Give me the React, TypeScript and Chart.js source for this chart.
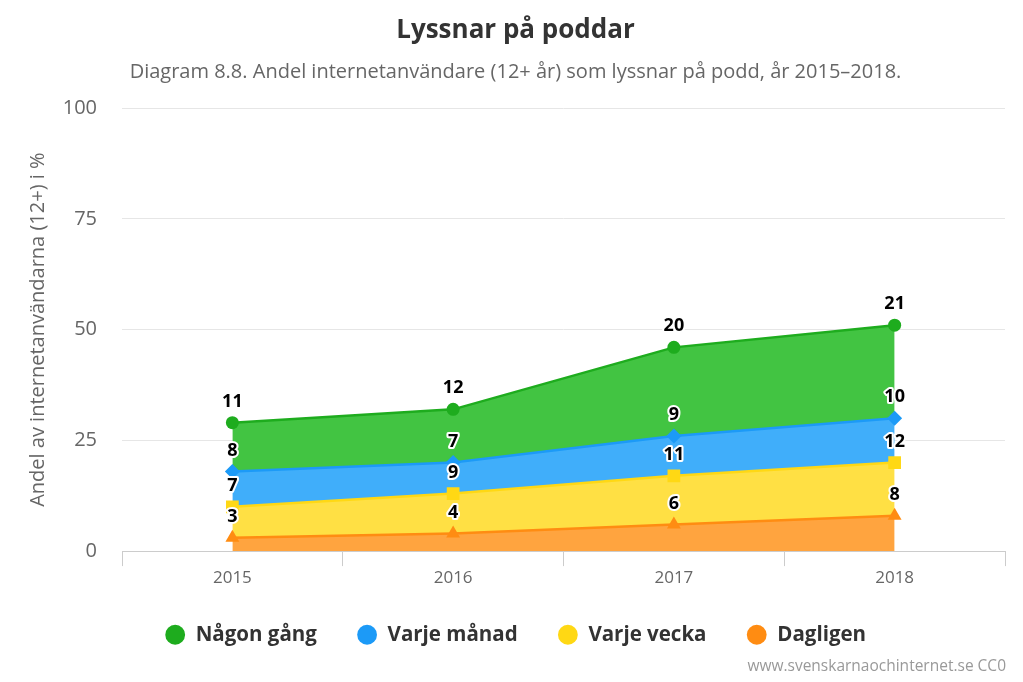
import React, { useEffect, useRef } from "react";
import { Chart, registerables } from "chart.js";

Chart.register(...registerables);

const categories = ["2015", "2016", "2017", "2018"];
const dagligen = [3, 4, 6, 8];
const varjeVecka = [7, 9, 11, 12];
const varjeManad = [8, 7, 9, 10];
const nagonGang = [11, 12, 20, 21];
const yTicks = [0, 25, 50, 75, 100];

const FONT = "'Open Sans', sans-serif";

const dataLabelPlugin = {
  id: "dataLabels",
  afterDatasetsDraw(chart: any) {
    const ctx = chart.ctx;
    ctx.save();
    ctx.font = `bold 18px ${FONT}`;
    ctx.textAlign = "center";
    ctx.textBaseline = "middle";
    ctx.lineJoin = "round";
    chart.data.datasets.forEach((ds: any, di: number) => {
      const meta = chart.getDatasetMeta(di);
      meta.data.forEach((pt: any, i: number) => {
        const txt = String(ds.data[i]);
        const x = pt.x;
        const y = pt.y - 21;
        ctx.strokeStyle = "#ffffff";
        ctx.lineWidth = 4;
        ctx.strokeText(txt, x, y);
        ctx.fillStyle = "#000000";
        ctx.fillText(txt, x, y);
      });
    });
    ctx.restore();
  },
};

const creditsPlugin = {
  id: "credits",
  afterLayout(chart: any) {
    if (chart.legend) {
      chart.legend.top -= 6;
      chart.legend.bottom -= 6;
    }
  },
  afterDraw(chart: any) {
    const ctx = chart.ctx;
    ctx.save();
    ctx.font = `15.5px ${FONT}`;
    ctx.fillStyle = "#999999";
    ctx.textAlign = "right";
    ctx.textBaseline = "middle";
    ctx.fillText("www.svenskarnaochinternet.se CC0", 1006, 667);
    ctx.restore();
  },
};

export default function App() {
  const ref = useRef<HTMLCanvasElement>(null);
  useEffect(() => {
    document.body.style.margin = "0";
    const chart = new Chart(ref.current!, {
      type: "line",
      data: {
        labels: categories,
        datasets: [
          {
            label: "Dagligen",
            data: dagligen,
            backgroundColor: "#ffa43f",
            borderColor: "#ff8c12",
            pointBackgroundColor: "#ff8c12",
            pointStyle: "triangle",
            pointRadius: 8,
            fill: "origin",
          },
          {
            label: "Varje vecka",
            data: varjeVecka,
            backgroundColor: "#ffe044",
            borderColor: "#ffd814",
            pointBackgroundColor: "#ffd814",
            pointStyle: "rect",
            pointRadius: 9,
            fill: "-1",
          },
          {
            label: "Varje månad",
            data: varjeManad,
            backgroundColor: "#40aefa",
            borderColor: "#1c9af7",
            pointBackgroundColor: "#1c9af7",
            pointStyle: "rectRot",
            pointRadius: 7.5,
            fill: "-1",
          },
          {
            label: "Någon gång",
            data: nagonGang,
            backgroundColor: "#42c442",
            borderColor: "#1eac1e",
            pointBackgroundColor: "#1eac1e",
            pointStyle: "circle",
            pointRadius: 6.5,
            fill: "-1",
          },
        ],
      },
      options: {
        animation: false,
        responsive: false,
        events: [],
        elements: {
          line: { borderWidth: 2.5, tension: 0 },
          point: { borderWidth: 0, hoverRadius: 7 },
        },
        layout: { padding: { left: 26, right: 18, bottom: 21, top: 0 } },
        scales: {
          x: {
            offset: true,
            grid: {
              offset: true,
              drawOnChartArea: false,
              drawTicks: true,
              tickLength: 15,
              color: "#cccccc",
            },
            border: { color: "#cccccc" },
            ticks: { color: "#666666", font: { size: 17, family: FONT }, padding: 2 },
          },
          y: {
            stacked: true,
            min: 0,
            max: 100,
            afterBuildTicks: (axis: any) => {
              axis.ticks = yTicks.map((v) => ({ value: v }));
            },
            afterFit: (axis: any) => {
              axis.width = 96;
            },
            grid: { color: "#e6e6e6", drawTicks: false },
            border: { display: false },
            ticks: { color: "#666666", font: { size: 20, family: FONT }, padding: 25 },
            title: {
              display: true,
              text: "Andel av internetanvändarna (12+) i %",
              color: "#666666",
              font: { size: 20, family: FONT },
              padding: { top: 0, bottom: 13 },
            },
          },
        },
        plugins: {
          title: {
            display: true,
            text: "Lyssnar på poddar",
            color: "#333333",
            font: { size: 26, weight: "bold", family: FONT },
            padding: { top: 15, bottom: 14 },
          },
          subtitle: {
            display: true,
            text: "Diagram 8.8. Andel internetanvändare (12+ år) som lyssnar på podd, år 2015–2018.",
            color: "#666666",
            font: { size: 20, family: FONT },
            padding: { top: 0, bottom: 24 },
          },
          legend: {
            position: "bottom",
            reverse: true,
            labels: {
              usePointStyle: true,
              pointStyle: "circle",
              boxHeight: 14,
              color: "#333333",
              font: { size: 20.5, weight: "bold", family: FONT },
              padding: 40,
              generateLabels: (chart: any) =>
                chart.data.datasets.map((ds: any, i: number) => ({
                  text: ds.label,
                  fillStyle: ds.borderColor,
                  strokeStyle: ds.borderColor,
                  lineWidth: 0,
                  pointStyle: "circle",
                  datasetIndex: i,
                  hidden: false,
                  fontColor: "#333333",
                })),
            },
          },
          tooltip: { enabled: false },
        },
      },
      plugins: [dataLabelPlugin, creditsPlugin],
    } as any);
    return () => chart.destroy();
  }, []);
  return (
    <div style={{ width: 1023, height: 682 }}>
      <canvas ref={ref} width={1023} height={682} style={{ display: "block" }} />
    </div>
  );
}
